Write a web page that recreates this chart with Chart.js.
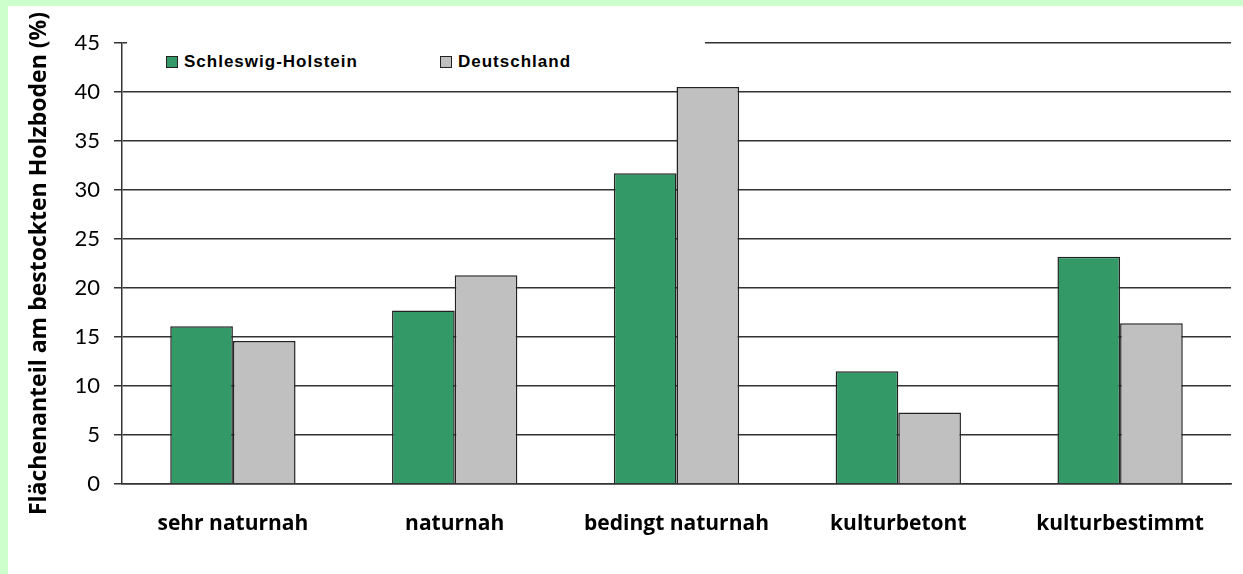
<!DOCTYPE html>
<html>
<head>
<meta charset="utf-8">
<script src="https://cdn.jsdelivr.net/npm/chart.js@4"></script>
<style>
    body { margin: 0; background: #ccffcc; width: 1243px; height: 574px; overflow: hidden; }
    .frame { position: absolute; left: 8px; top: 6px; width: 1235px; height: 568px; background: #fff; }
    .legend { position: absolute; left: 119px; top: 30px; width: 578px; height: 48px; background: #fff;
              font-family: "Liberation Sans", Arial, sans-serif; font-weight: bold; font-size: 17px;
              letter-spacing: 1px; color: #000; }
    .legend-item { position: absolute; top: 16px; display: flex; align-items: center; }
    .legend-box { width: 10px; height: 10px; border: 1px solid #222; margin-right: 6px; }
</style>
</head>
<body>
<div class="frame">
    <canvas id="chart" width="1235" height="568"></canvas>
    <div class="legend">
        <div class="legend-item" style="left: 39px;"><div class="legend-box" style="background:#339966"></div>Schleswig-Holstein</div>
        <div class="legend-item" style="left: 313px;"><div class="legend-box" style="background:#c0c0c0"></div>Deutschland</div>
    </div>
</div>
<script>
    // Kategorien und Werte
    const kategorien = ['sehr naturnah', 'naturnah', 'bedingt naturnah', 'kulturbetont', 'kulturbestimmt'];
    const schleswigHolstein = [16.1, 17.7, 31.7, 11.5, 23.2];
    const deutschland = [14.6, 21.3, 40.5, 7.3, 16.4];
    const yMax = 45;
    const yStep = 5;

    const ctx = document.getElementById('chart').getContext('2d');
    new Chart(ctx, {
        type: 'bar',
        data: {
            labels: kategorien,
            datasets: [
                {
                    label: 'Schleswig-Holstein',
                    data: schleswigHolstein,
                    backgroundColor: '#339966',
                    borderColor: '#222',
                    borderWidth: 1.5
                },
                {
                    label: 'Deutschland',
                    data: deutschland,
                    backgroundColor: '#c0c0c0',
                    borderColor: '#222',
                    borderWidth: 1.5
                }
            ]
        },
        options: {
            responsive: false,
            animation: false,
            layout: { padding: { top: 37, right: 12, left: 0, bottom: 0 } },
            plugins: {
                legend: { display: false },
                tooltip: { enabled: false }
            },
            datasets: {
                bar: { categoryPercentage: 0.565, barPercentage: 1 }
            },
            scales: {
                x: {
                    grid: { display: false },
                    border: { display: true, color: '#333', width: 1.5 },
                    ticks: {
                        color: '#000',
                        padding: 19,
                        font: { family: 'Open Sans', size: 21, weight: 'bold' },
                        maxRotation: 0
                    },
                    afterFit: scale => { scale.height = 90; }
                },
                y: {
                    min: 0,
                    max: yMax,
                    ticks: {
                        stepSize: yStep,
                        color: '#000',
                        padding: 14,
                        font: { family: 'Lato', size: 22 }
                    },
                    grid: { color: '#333', lineWidth: 1.5, tickLength: 8 },
                    border: { display: true, color: '#333', width: 1.5 },
                    title: {
                        display: true,
                        text: 'Flächenanteil am bestockten Holzboden (%)',
                        color: '#000',
                        font: { family: 'Open Sans', size: 23, weight: 'bold' },
                        padding: { top: 18, bottom: 0 }
                    },
                    afterFit: scale => { scale.width = 114; }
                }
            }
        }
    });
</script>
</body>
</html>
